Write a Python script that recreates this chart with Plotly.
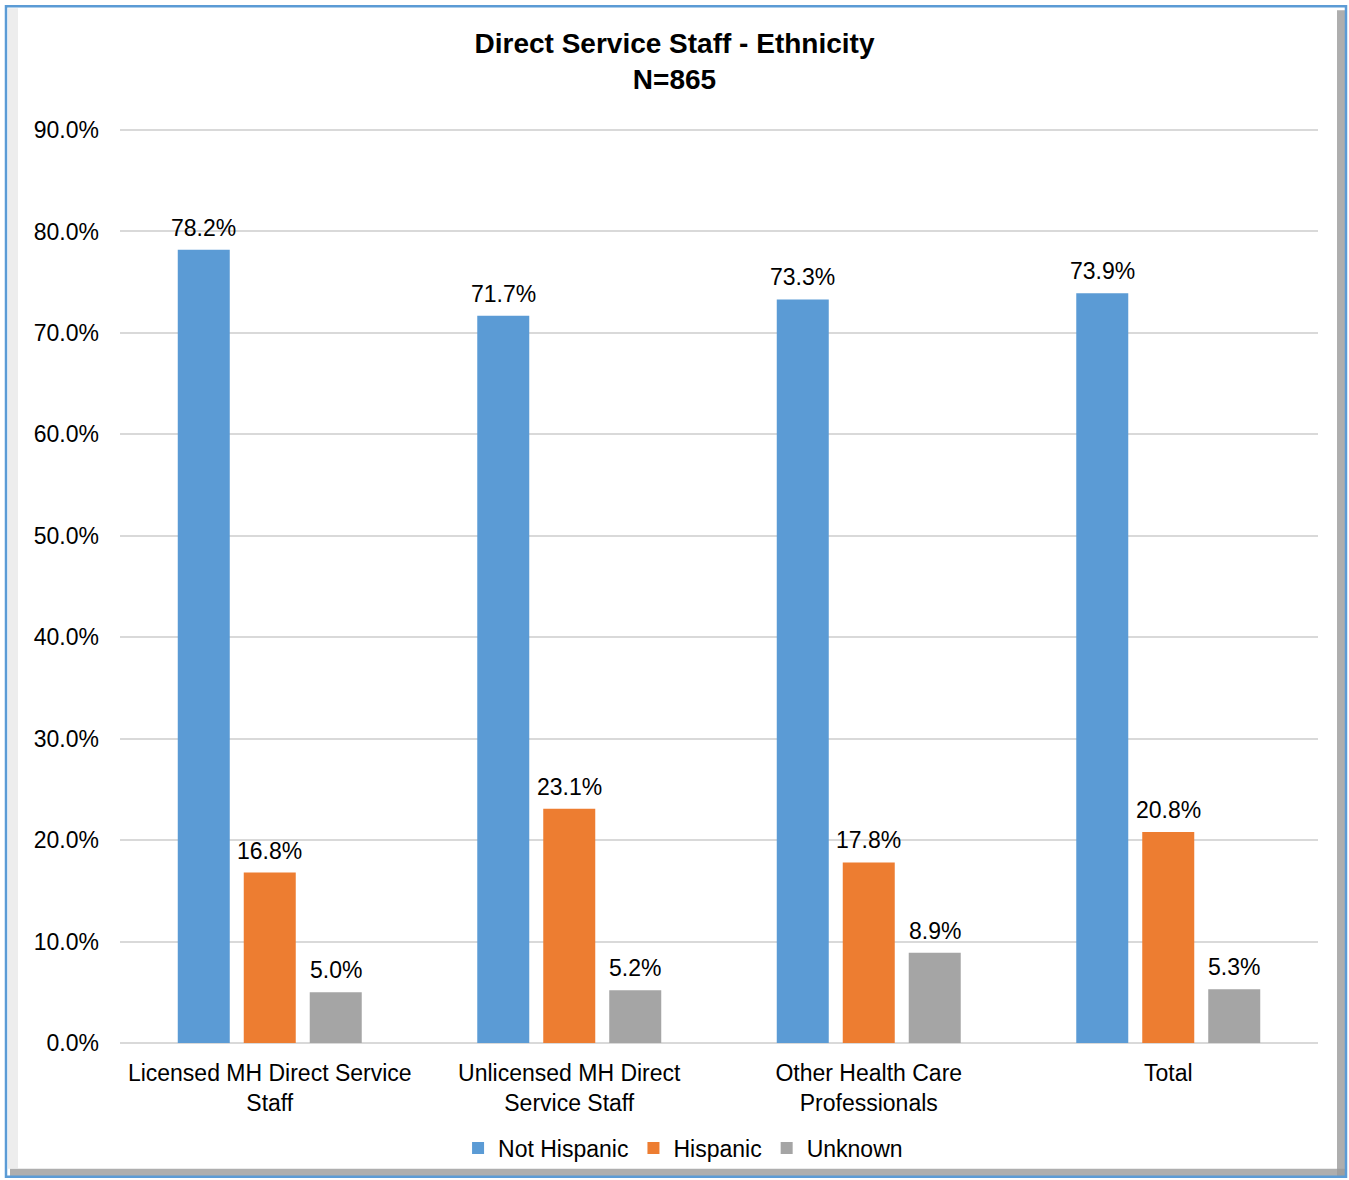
import plotly.graph_objects as go

categories = ["Licensed MH Direct Service<br>Staff", "Unlicensed MH Direct<br>Service Staff",
              "Other Health Care<br>Professionals", "Total"]
not_hispanic = [0.782, 0.717, 0.733, 0.739]
hispanic = [0.168, 0.231, 0.178, 0.208]
unknown = [0.050, 0.052, 0.089, 0.053]
y_ticks = [0.0, 0.1, 0.2, 0.3, 0.4, 0.5, 0.6, 0.7, 0.8, 0.9]

W, H = 1349, 1180
L, R, T, B = 120, 1318, 128, 1044
FONT = "Liberation Sans, Arial, sans-serif"
FS = 23

def px(x):
    return (x - L) / (R - L)

def py(y):
    return (B - y) / (B - T)

series = [("Not Hispanic", not_hispanic, "#5B9BD5", -66),
          ("Hispanic", hispanic, "#ED7D31", 0),
          ("Unknown", unknown, "#A5A5A5", 66)]

fig = go.Figure()
annotations = []
for name, vals, col, shift in series:
    fig.add_trace(go.Bar(
        name=name, x=categories, y=vals, marker=dict(color=col, line=dict(width=0)),
        hoverinfo="skip",
    ))
    for c, v in zip(categories, vals):
        annotations.append(dict(
            x=c, y=v, xref="x", yref="y", text=f"{v*100:.1f}%", showarrow=False,
            yanchor="bottom", xanchor="center", xshift=shift, yshift=7,
            font=dict(size=FS, color="#000000", family=FONT),
        ))

shapes = [
    dict(type="rect", xref="paper", yref="paper", x0=px(1337), x1=px(1346), y0=py(1178), y1=py(10),
         fillcolor="#9a9a9a", line=dict(width=0), opacity=0.8, layer="below"),
    dict(type="rect", xref="paper", yref="paper", x0=px(10), x1=px(1346), y0=py(1178), y1=py(1170),
         fillcolor="#9a9a9a", line=dict(width=0), opacity=0.8, layer="below"),
    dict(type="rect", xref="paper", yref="paper", x0=px(8), x1=px(18), y0=py(1170), y1=py(8),
         fillcolor="#e6e6e6", line=dict(width=0), opacity=0.7, layer="below"),
    dict(type="rect", xref="paper", yref="paper", x0=px(6), x1=px(1346), y0=py(1178), y1=py(6),
         line=dict(color="#5B9BD5", width=2.5), fillcolor="rgba(0,0,0,0)", layer="above"),
]

fig.update_layout(
    width=W, height=H,
    margin=dict(l=L, r=W - R, t=T, b=H - B),
    paper_bgcolor="white", plot_bgcolor="white",
    barmode="group", bargap=0.339, bargroupgap=0.212,
    font=dict(family=FONT, size=FS, color="#000000"),
    title=dict(text="<b>Direct Service Staff - Ethnicity<br>N=865</b>", x=0.5, xref="container",
               y=1 - 53 / H, yanchor="top", font=dict(size=28, color="#000000", family=FONT)),
    yaxis=dict(range=[0, 0.902], tickvals=y_ticks, tickformat=".1%", showgrid=True,
               gridcolor="#D9D9D9", gridwidth=1.5, zeroline=True, zerolinecolor="#D9D9D9",
               zerolinewidth=1.5, showline=False, ticks="", ticklabelstandoff=20,
               tickfont=dict(size=FS, family=FONT, color="#000000")),
    xaxis=dict(showline=False, ticks="", ticklabelstandoff=14,
               tickfont=dict(size=FS, family=FONT, color="#000000")),
    legend=dict(orientation="h", x=0.47, xanchor="center", y=py(1148), yanchor="middle",
                font=dict(size=FS, family=FONT, color="#000000"), itemwidth=30,
                traceorder="normal", bgcolor="rgba(0,0,0,0)"),
    showlegend=True,
    shapes=shapes,
    annotations=annotations,
)

fig.write_html("out.html", config={"displayModeBar": False},
               post_script="document.body.style.margin='0';document.body.style.padding='0';")
